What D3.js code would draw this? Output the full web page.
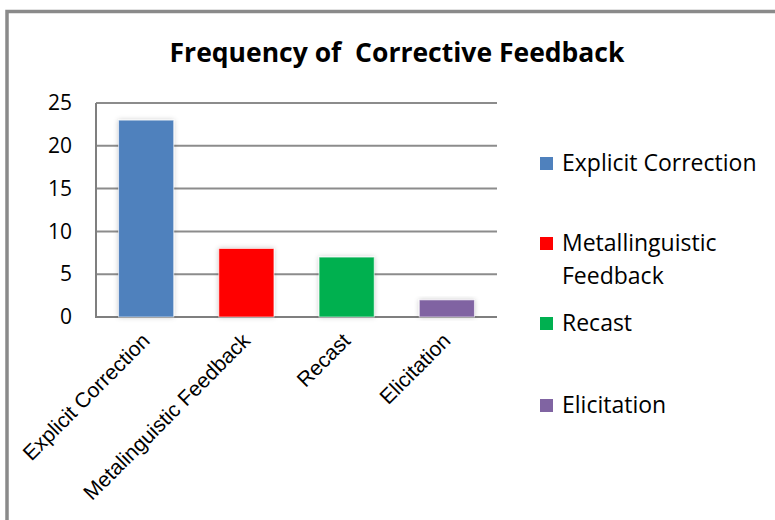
<!DOCTYPE html>
<html>
<head>
<meta charset="utf-8">
<script src="https://cdn.jsdelivr.net/npm/d3@7"></script>
<style>
  body { margin: 0; background: #fff; }
  svg { display: block; }
</style>
</head>
<body>
<svg id="CHART"></svg>
<script>
// data
const categories = ["Explicit Correction", "Metalinguistic Feedback", "Recast", "Elicitation"];
const legendLabels = [["Explicit Correction"], ["Metallinguistic", "Feedback"], ["Recast"], ["Elicitation"]];
const counts = [23, 8, 7, 2];
const colors = ["#4f81bd", "#ff0000", "#00b050", "#8064a2"];
const yTicks = [0, 5, 10, 15, 20, 25];

const width = 775;
const height = 520;
const plot = { left: 96, right: 497, top: 103, bottom: 317 };

const svg = d3.select("#CHART").attr("width", width).attr("height", height);

// soft shadow behind the bars
const defs = svg.append("defs");
const shadow = defs.append("filter").attr("id", "glow")
  .attr("x", "-20%").attr("y", "-20%").attr("width", "140%").attr("height", "140%");
shadow.append("feDropShadow")
  .attr("dx", 0).attr("dy", 0).attr("stdDeviation", 2.5)
  .attr("flood-color", "#000").attr("flood-opacity", 0.22);

// outer frame (left + top only visible)
svg.append("path")
  .attr("d", `M7,${height} V11.5 H${width}`)
  .attr("fill", "none")
  .attr("stroke", "#8a8a8a")
  .attr("stroke-width", 3.5);

svg.append("text")
  .attr("x", 397)
  .attr("y", 62)
  .attr("text-anchor", "middle")
  .style("font-family", "'Open Sans', sans-serif")
  .style("font-weight", 700)
  .style("font-size", "26.5px")
  .attr("xml:space", "preserve")
  .text("Frequency of  Corrective Feedback");

const x = d3.scaleBand()
  .domain(categories)
  .range([plot.left, plot.right])
  .paddingInner(0.45)
  .paddingOuter(0.225);

const y = d3.scaleLinear().domain([0, 25]).range([plot.bottom, plot.top]);

// gridlines
svg.append("g")
  .selectAll("line")
  .data(yTicks)
  .join("line")
  .attr("x1", plot.left)
  .attr("x2", plot.right)
  .attr("y1", (d) => y(d))
  .attr("y2", (d) => y(d))
  .attr("stroke", (d) => (d === 0 ? "#7f7f7f" : "#8c8c8c"))
  .attr("stroke-width", 2);

// y axis line
svg.append("line")
  .attr("x1", plot.left).attr("x2", plot.left)
  .attr("y1", plot.top).attr("y2", plot.bottom + 1)
  .attr("stroke", "#7f7f7f")
  .attr("stroke-width", 2);

// y tick labels
const yAxis = svg.append("g")
  .attr("transform", `translate(${plot.left},0)`)
  .call(d3.axisLeft(y).tickValues(yTicks).tickSize(0).tickPadding(24));
yAxis.select(".domain").remove();
yAxis.selectAll("text")
  .style("font-family", "'Open Sans', sans-serif")
  .style("font-size", "21px")
  .attr("fill", "#000");

// bars
svg.append("g")
  .selectAll("rect")
  .data(counts)
  .join("rect")
  .attr("x", (d, i) => x(categories[i]))
  .attr("y", (d) => y(d))
  .attr("width", x.bandwidth())
  .attr("height", (d) => y(0) - y(d))
  .attr("fill", (d, i) => colors[i])
  .attr("stroke", "#fff")
  .attr("stroke-opacity", 0.6)
  .attr("stroke-width", 1)
  .attr("filter", "url(#glow)");

// x labels, rotated
const xAxis = svg.append("g")
  .attr("transform", `translate(0,${plot.bottom})`)
  .call(d3.axisBottom(x).tickSize(0).tickPadding(0));
xAxis.select(".domain").remove();
xAxis.selectAll("text")
  .style("font-family", "'Liberation Sans', Arial, sans-serif")
  .style("font-size", "21px")
  .attr("fill", "#000")
  .attr("text-anchor", "end")
  .attr("dy", null)
  .attr("y", 0)
  .attr("transform", "translate(5,25) rotate(-45)");

// legend
const legend = svg.append("g")
  .selectAll("g")
  .data(legendLabels)
  .join("g")
  .attr("transform", (d, i) => `translate(540,${[163, 243, 323, 405][i]})`);

legend.append("rect")
  .attr("x", 0).attr("y", -6)
  .attr("width", 13).attr("height", 13)
  .attr("fill", (d, i) => colors[i]);

legend.each(function (d) {
  const t = d3.select(this).append("text")
    .attr("x", 22)
    .attr("y", 8)
    .style("font-family", "'Open Sans', sans-serif")
    .style("font-size", "23px")
    .attr("fill", "#000");
  d.forEach((line, j) => {
    t.append("tspan").attr("x", 22).attr("dy", j === 0 ? 0 : 33).text(line);
  });
});
</script>
</body>
</html>
